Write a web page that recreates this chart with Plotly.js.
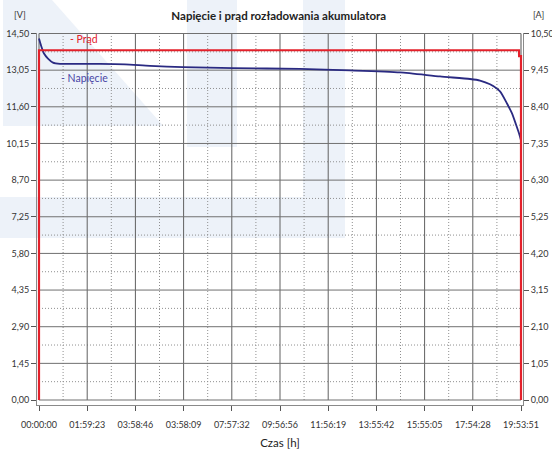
<!DOCTYPE html>
<html>
<head>
<meta charset="utf-8">
<script src="https://cdn.plot.ly/plotly-3.0.1.min.js"></script>
<style>html,body{margin:0;padding:0;background:#fff}#chart{width:552px;height:452px}</style>
</head>
<body>
<div id="chart"></div>
<script>
// Time in seconds since start of discharge
const tickLabels = ["00:00:00","01:59:23","03:58:46","03:58:09","07:57:32","09:56:56","11:56:19","13:55:42","15:55:05","17:54:28","19:53:51"];
const tickSeconds = [0,7163,14326,21489,28652,35816,42979,50142,57305,64468,71631];

// Voltage [V]
const voltTime = [0,297,743,1337,2080,3121,6093,9065,12781,16496,21400,28831,38788,46218,53649,59593,64052,65538,67024,68510,69550,70293,70888,71333,71631];
const voltVal  = [14.30,14.03,13.71,13.51,13.35,13.30,13.30,13.30,13.28,13.22,13.17,13.13,13.10,13.04,12.96,12.80,12.70,12.64,12.49,12.21,11.73,11.34,10.90,10.55,10.27];

// Current [A]
const currTime = [0,0,71330,71350,71631,71631];
const currVal  = [0,10.02,10.02,9.85,9.85,0];

// Axis ticks
const voltTicks = [0,1.45,2.90,4.35,5.80,7.25,8.70,10.15,11.60,13.05,14.50];
const currTicks = [0,1.05,2.10,3.15,4.20,5.25,6.30,7.35,8.40,9.45,10.50];

const fmt = v => v.toFixed(2).replace('.', ',');
const mids = a => a.slice(0, -1).map((v, i) => (v + a[i + 1]) / 2);

const traces = [
  {x: voltTime, y: voltVal, type: 'scatter', mode: 'lines', name: 'Napięcie',
   line: {color: '#2a2a82', width: 1.8, shape: 'spline', smoothing: 0.6}, yaxis: 'y'},
  {x: currTime, y: currVal, type: 'scatter', mode: 'lines', name: 'Prąd',
   line: {color: '#e3202a', width: 2.2}, yaxis: 'y2'}
];

const wm = '#edf2f9';
const xr = [-297, 71928];
const yr = [-0.1975, 14.52];
const tMax = tickSeconds[tickSeconds.length - 1];
const vMax = voltTicks[voltTicks.length - 1];

// watermark shapes
const shapes = [
  {type: 'path', xref: 'paper', yref: 'paper', layer: 'below', line: {width: 0}, fillcolor: wm,
   path: 'M -0.07 1.09 L 0.03 1.09 L 0.26 0.75 L -0.07 0.75 Z'},
  {type: 'rect', xref: 'paper', yref: 'paper', layer: 'below', line: {width: 0}, fillcolor: wm,
   x0: (187-37)/486, x1: (237-37)/486, y0: (405-147)/372, y1: 1.09},
  {type: 'rect', xref: 'paper', yref: 'paper', layer: 'below', line: {width: 0}, fillcolor: wm,
   x0: (303-37)/486, x1: (345-37)/486, y0: (405-238)/372, y1: 1.09},
  {type: 'rect', xref: 'paper', yref: 'paper', layer: 'below', line: {width: 0}, fillcolor: wm,
   x0: -0.08, x1: (345-37)/486, y0: (405-238)/372, y1: (405-197)/372}
];
// dotted minor grid lines between major ticks
const dotLine = {color: '#8f8f8f', width: 1, dash: '1px,2px'};
mids(tickSeconds).forEach(v => shapes.push({type: 'line', xref: 'x', yref: 'y', layer: 'below',
  x0: v, x1: v, y0: 0, y1: vMax, line: dotLine}));
mids(voltTicks).forEach(v => shapes.push({type: 'line', xref: 'x', yref: 'y', layer: 'below',
  x0: 0, x1: tMax, y0: v, y1: v, line: dotLine}));
// solid major grid lines at the ticks
tickSeconds.forEach((v, i) => shapes.push({type: 'line', xref: 'x', yref: 'y', layer: 'below',
  x0: v, x1: v, y0: 0, y1: vMax,
  line: i === tickSeconds.length - 1 ? {color: '#a8a8a8', width: 2} : {color: '#606060', width: 1}}));
voltTicks.forEach(v => shapes.push({type: 'line', xref: 'x', yref: 'y', layer: 'below',
  x0: 0, x1: tMax, y0: v, y1: v, line: {color: '#707070', width: 1}}));

const layout = {
  width: 552, height: 452,
  margin: {l: 37, r: 29, t: 33, b: 47},
  paper_bgcolor: '#ffffff', plot_bgcolor: 'rgba(0,0,0,0)',
  showlegend: false,
  font: {family: 'Lato, "Open Sans", sans-serif', color: '#333', size: 9},
  title: {text: 'Napięcie i prąd rozładowania akumulatora', x: 0.505, xanchor: 'center',
          y: 1 - 16/452, yanchor: 'middle', yref: 'container',
          font: {family: 'Lato, sans-serif', size: 11.5, color: '#222', weight: 'bold'}},
  xaxis: {
    range: xr, tickmode: 'array', tickvals: tickSeconds, ticktext: tickLabels,
    showgrid: false,
    showline: true, linecolor: '#8a8a8a', linewidth: 1, ticks: 'outside', ticklen: 5, tickcolor: '#555',
    ticklabelstandoff: 6, zeroline: false,
    tickfont: {size: 9, color: '#333'},
    title: {text: 'Czas [h]', standoff: 10, font: {size: 11.5, color: '#222'}}
  },
  yaxis: {
    range: yr, tickmode: 'array', tickvals: voltTicks, ticktext: voltTicks.map(fmt),
    showgrid: false,
    showline: true, linecolor: '#8a8a8a', linewidth: 1, ticks: 'outside', ticklen: 5, tickcolor: '#555',
    zeroline: false, tickfont: {size: 9, color: '#333'}
  },
  yaxis2: {
    overlaying: 'y', side: 'right',
    range: [-0.1430, 10.5145], tickmode: 'array', tickvals: currTicks, ticktext: currTicks.map(fmt),
    showgrid: false, zeroline: false,
    showline: true, linecolor: '#8a8a8a', linewidth: 1, ticks: 'outside', ticklen: 5, tickcolor: '#555',
    tickfont: {size: 9, color: '#333'}
  },
  shapes: shapes,
  annotations: [
    {text: '[V]', xref: 'paper', yref: 'paper', x: (20-37)/486, y: (405-14)/372, showarrow: false,
     xanchor: 'center', yanchor: 'middle', font: {size: 9, color: '#333'}},
    {text: '[A]', xref: 'paper', yref: 'paper', x: (538-37)/486, y: (405-14)/372, showarrow: false,
     xanchor: 'center', yanchor: 'middle', font: {size: 9, color: '#333'}},
    {text: '- Prąd', xref: 'paper', yref: 'paper', x: (68-37)/486, y: (405-39)/372, showarrow: false,
     xanchor: 'left', yanchor: 'middle', font: {size: 10.5, color: '#e3202a'}},
    {text: '- Napięcie', xref: 'paper', yref: 'paper', x: (59-37)/486, y: (405-78)/372, showarrow: false,
     xanchor: 'left', yanchor: 'middle', font: {size: 10.5, color: '#4a46a6'}}
  ]
};

Plotly.newPlot('chart', traces, layout, {displayModeBar: false, staticPlot: true});
</script>
</body>
</html>
